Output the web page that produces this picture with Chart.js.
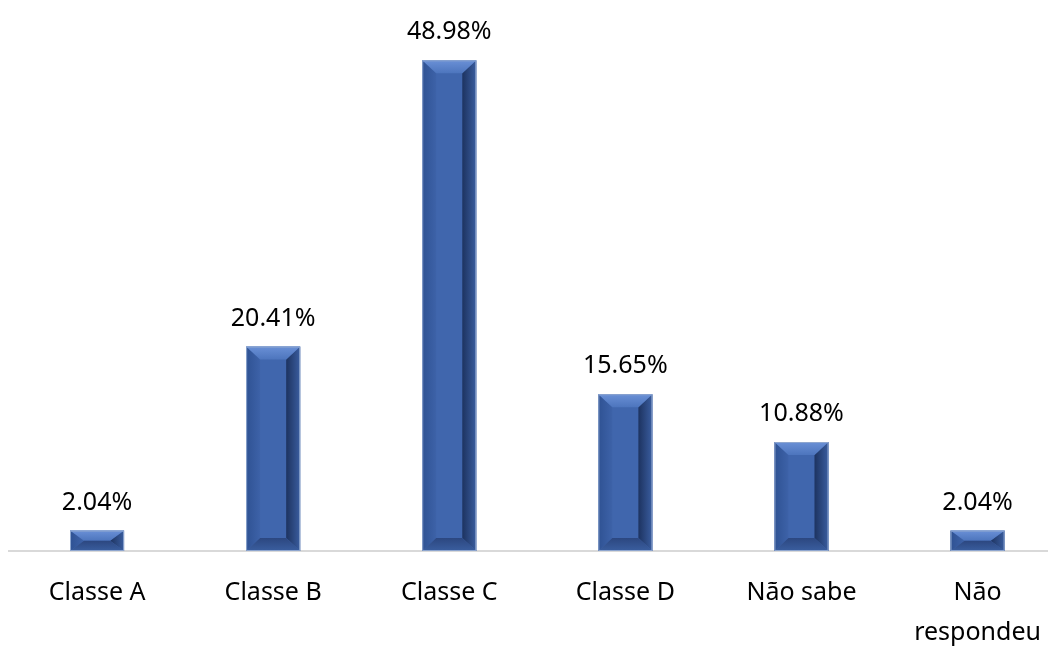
<!DOCTYPE html>
<html lang="en">
<head>
  <meta charset="UTF-8" />
  <title>Classe social</title>
  <script src="https://cdn.jsdelivr.net/npm/chart.js"></script>
  <style>
    * { margin: 0; padding: 0; box-sizing: border-box; }
    body { background: #fff; }
    .wrap { width: 1048px; height: 648px; position: relative; }
  </style>
</head>
<body>
  <div class="wrap">
    <canvas id="chart"></canvas>
  </div>

  <script>
    const categories = ["Classe A", "Classe B", "Classe C", "Classe D", "Não sabe", ["Não", "respondeu"]];
    const values = [2.04, 20.41, 48.98, 15.65, 10.88, 2.04];
    const valueLabels = ["2.04%", "20.41%", "48.98%", "15.65%", "10.88%", "2.04%"];

    const FONT = "'Noto Sans', sans-serif";

    // bevel look like the office 3d bars
    const bevelPlugin = {
      id: "bevel",
      afterDatasetsDraw(chart) {
        const ctx = chart.ctx;
        const meta = chart.getDatasetMeta(0);
        meta.data.forEach((bar, i) => {
          const l = bar.x - bar.width / 2, r = bar.x + bar.width / 2;
          const t = bar.y, b = bar.base;
          const h = b - t;
          const bx = Math.min(14, bar.width / 2);
          const by = Math.min(13, h / 2);
          ctx.save();
          // face
          ctx.fillStyle = "#4066ad";
          ctx.fillRect(l, t, r - l, h);
          // left
          let g = ctx.createLinearGradient(l, 0, l + bx, 0);
          g.addColorStop(0, "#2f5293");
          g.addColorStop(1, "#3d62a8");
          poly(ctx, [[l, t], [l + bx, t + by], [l + bx, b - by], [l, b]], g);
          // right
          g = ctx.createLinearGradient(r - bx, 0, r, 0);
          g.addColorStop(0, "#1d3360");
          g.addColorStop(1, "#3a5d9f");
          poly(ctx, [[r, t], [r - bx, t + by], [r - bx, b - by], [r, b]], g);
          // top
          g = ctx.createLinearGradient(0, t, 0, t + by);
          g.addColorStop(0, "#6a90d6");
          g.addColorStop(1, "#4d75bd");
          poly(ctx, [[l, t], [r, t], [r - bx, t + by], [l + bx, t + by]], g);
          // bottom
          g = ctx.createLinearGradient(0, b - by, 0, b);
          g.addColorStop(0, "#2c4780");
          g.addColorStop(1, "#3a5e9f");
          poly(ctx, [[l, b], [r, b], [r - bx, b - by], [l + bx, b - by]], g);
          ctx.strokeStyle = "#8ea6cf";
          ctx.lineWidth = 1;
          ctx.strokeRect(l + 0.5, t + 0.5, r - l - 1, h - 1);

          // value label
          ctx.fillStyle = "#000";
          ctx.font = "25px " + FONT;
          ctx.textAlign = "center";
          ctx.textBaseline = "middle";
          ctx.fillText(valueLabels[i], bar.x, t - 28);
          ctx.restore();
        });
      }
    };

    function poly(ctx, pts, fill) {
      ctx.beginPath();
      ctx.moveTo(pts[0][0], pts[0][1]);
      for (let k = 1; k < pts.length; k++) ctx.lineTo(pts[k][0], pts[k][1]);
      ctx.closePath();
      ctx.fillStyle = fill;
      ctx.fill();
    }

    new Chart(document.getElementById("chart"), {
      type: "bar",
      data: {
        datasets: [{
          data: values.map((v, i) => ({ x: i, y: v })),
          backgroundColor: "rgba(0,0,0,0)",
          borderWidth: 0,
          barPercentage: 1,
          categoryPercentage: 0.307
        }]
      },
      options: {
        responsive: true,
        maintainAspectRatio: false,
        animation: false,
        layout: { padding: { left: 9, right: 0, top: 0, bottom: 0 } },
        plugins: { legend: { display: false }, tooltip: { enabled: false } },
        scales: {
          x: {
            type: "linear",
            offset: false,
            min: -0.5,
            max: 5.4,
            grid: { display: false, drawTicks: false },
            border: { color: "#d9d9d9", width: 2 },
            afterBuildTicks(scale) {
              scale.ticks = categories.map((c, i) => ({ value: i }));
            },
            afterFit(scale) {
              scale.height = 97;
              scale.paddingLeft = 0;
              scale.paddingRight = 0;
            },
            ticks: {
              autoSkip: false,
              maxRotation: 0,
              padding: 22,
              color: "#000",
              font: { family: FONT, size: 25, lineHeight: 1.6 },
              callback: (v) => categories[v]
            }
          },
          y: {
            display: false,
            min: 0,
            max: 55
          }
        }
      },
      plugins: [bevelPlugin]
    });
  </script>
</body>
</html>
